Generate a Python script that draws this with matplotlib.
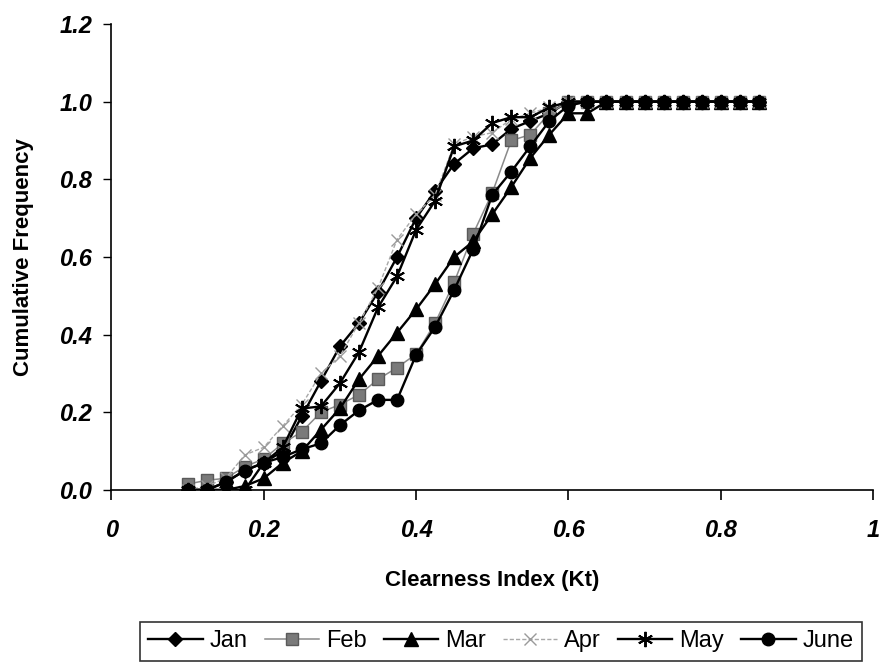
import matplotlib
matplotlib.use("Agg")
import matplotlib.pyplot as plt

plt.rcParams['font.family'] = ['Liberation Sans', 'DejaVu Sans']

kt = [0.1, 0.125, 0.15, 0.175, 0.2, 0.225, 0.25, 0.275, 0.3, 0.325, 0.35,
      0.375, 0.4, 0.425, 0.45, 0.475, 0.5, 0.525, 0.55, 0.575, 0.6, 0.625,
      0.65, 0.675, 0.7, 0.725, 0.75, 0.775, 0.8, 0.825, 0.85]

jan = [0.0, 0.0, 0.02, 0.05, 0.07, 0.10, 0.19, 0.28, 0.37, 0.43, 0.51,
       0.60, 0.70, 0.77, 0.84, 0.88, 0.89, 0.93, 0.95, 0.97, 1.0, 1.0,
       1.0, 1.0, 1.0, 1.0, 1.0, 1.0, 1.0, 1.0, 1.0]
feb = [0.015, 0.025, 0.03, 0.06, 0.08, 0.12, 0.15, 0.20, 0.22, 0.245, 0.285,
       0.315, 0.35, 0.43, 0.535, 0.66, 0.765, 0.90, 0.915, 0.97, 1.0, 1.0,
       1.0, 1.0, 1.0, 1.0, 1.0, 1.0, 1.0, 1.0, 1.0]
mar = [0.0, 0.0, 0.0, 0.01, 0.03, 0.07, 0.10, 0.155, 0.21, 0.285, 0.345,
       0.405, 0.465, 0.53, 0.60, 0.64, 0.71, 0.78, 0.855, 0.915, 0.97, 0.97,
       1.0, 1.0, 1.0, 1.0, 1.0, 1.0, 1.0, 1.0, 1.0]
apr = [0.0, 0.01, 0.03, 0.09, 0.11, 0.165, 0.22, 0.30, 0.345, 0.43, 0.52,
       0.645, 0.71, 0.76, 0.89, 0.91, 0.92, 0.955, 0.97, 0.985, 1.0, 1.0,
       1.0, 1.0, 1.0, 1.0, 1.0, 1.0, 1.0, 1.0, 1.0]
may = [0.0, 0.0, 0.0, 0.0, 0.07, 0.11, 0.21, 0.215, 0.275, 0.355, 0.47,
       0.55, 0.67, 0.745, 0.885, 0.90, 0.945, 0.96, 0.96, 0.985, 1.0, 1.0,
       1.0, 1.0, 1.0, 1.0, 1.0, 1.0, 1.0, 1.0, 1.0]
june = [0.0, 0.0, 0.02, 0.05, 0.07, 0.085, 0.105, 0.12, 0.167, 0.205, 0.232,
        0.232, 0.348, 0.42, 0.515, 0.62, 0.76, 0.82, 0.885, 0.95, 0.99, 1.0,
        1.0, 1.0, 1.0, 1.0, 1.0, 1.0, 1.0, 1.0, 1.0]

x_ticks = [0, 0.2, 0.4, 0.6, 0.8, 1]
x_tick_labels = ['0', '0.2', '0.4', '0.6', '0.8', '1']
y_ticks = [0.0, 0.2, 0.4, 0.6, 0.8, 1.0, 1.2]
y_tick_labels = ['0.0', '0.2', '0.4', '0.6', '0.8', '1.0', '1.2']

fig = plt.figure(figsize=(8.82, 6.70), dpi=100)
ax = fig.add_axes([0.1264, 0.2687, 0.8634, 0.6955])

asterisk = (6, 2, 0)
series = [
    ('Jan', jan, dict(color='black', lw=1.7, marker='D', ms=7.5, mfc='black', mec='black')),
    ('Feb', feb, dict(color='#8a8a8a', lw=1.1, marker='s', ms=8.5, mfc='#7a7a7a', mec='#5a5a5a')),
    ('Mar', mar, dict(color='black', lw=1.7, marker='^', ms=9.5, mfc='black', mec='black')),
    ('Apr', apr, dict(color='#a8a8a8', lw=1.0, ls=(0, (3, 1.5)), marker='x', ms=9, mew=1.0, mec='#9a9a9a')),
    ('May', may, dict(color='black', lw=1.7, marker=asterisk, ms=11, mew=1.4, mec='black')),
    ('June', june, dict(color='black', lw=1.7, marker='o', ms=9, mfc='black', mec='black')),
]
for name, vals, kw in series:
    ax.plot(kt, vals, label=name, **kw)

ax.set_xlim(0, 1)
ax.set_ylim(0, 1.2)
ax.set_xticks(x_ticks)
ax.set_xticklabels(x_tick_labels)
ax.set_yticks(y_ticks)
ax.set_yticklabels(y_tick_labels)
for lab in ax.get_xticklabels() + ax.get_yticklabels():
    lab.set_fontweight('bold')
    lab.set_fontstyle('italic')
    lab.set_fontsize(17)
ax.tick_params(axis='x', direction='out', length=7, width=1.2, pad=14)
ax.tick_params(axis='y', direction='out', length=6, width=1.0, pad=8)

ax.spines['top'].set_visible(False)
ax.spines['right'].set_visible(False)
ax.spines['left'].set_linewidth(1.2)
ax.spines['bottom'].set_linewidth(1.2)

ax.set_xlabel('Clearness Index (Kt)', fontsize=16, fontweight='bold', labelpad=20)
ax.set_ylabel('Cumulative Frequency', fontsize=16, fontweight='bold', labelpad=18)

leg = fig.legend(loc='upper left', bbox_to_anchor=(140/882, 1 - 668/670, 722/882, 46/670),
                 mode='expand', ncol=6, fontsize=17, frameon=True, fancybox=False,
                 handlelength=2.3, handletextpad=0.3, columnspacing=0.6,
                 borderaxespad=0.0, borderpad=0.35)
leg.get_frame().set_edgecolor('black')
leg.get_frame().set_linewidth(1.2)

fig.savefig('out.png', dpi=100)
